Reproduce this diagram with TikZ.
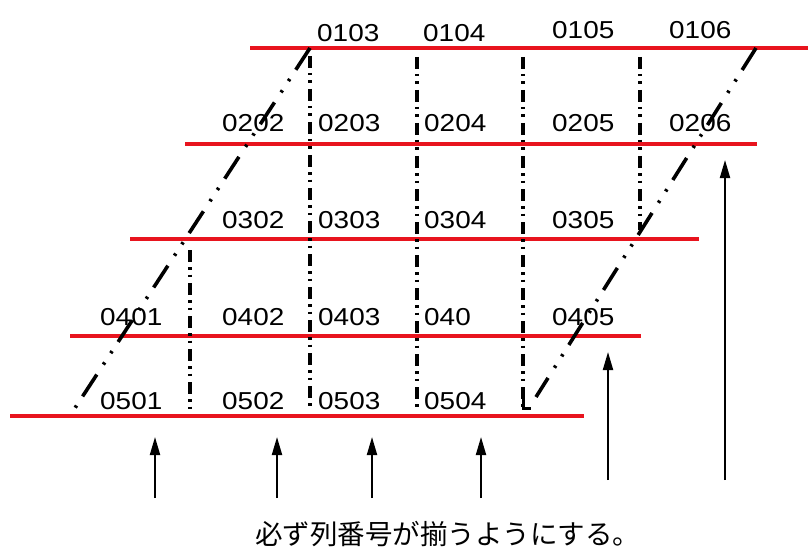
\documentclass[tikz,border=0pt]{standalone}
\usepackage{fontspec}
\setmainfont{Liberation Sans}[FakeStretch=1.14]
\newfontfamily\jpfont{Noto Sans CJK JP}
\usetikzlibrary{arrows.meta}
\definecolor{redline}{RGB}{232,20,30}
\tikzset{
  rowline/.style={draw=redline,line width=3.5pt},
  colline/.style={draw=black,line width=3.6pt,dash pattern=on 12pt off 5pt on 2.5pt off 5pt on 2.5pt off 6pt},
  diagline/.style={draw=black,line width=3.6pt,dash pattern=on 26pt off 11pt on 2.5pt off 11pt on 2.5pt off 12pt},
  uparrow/.style={draw=black,line width=2pt,-{Triangle[length=18pt,width=10pt]}},
  lab/.style={inner sep=0pt,anchor=base west,font=\fontsize{24.5}{24.5}\selectfont},
}
\begin{document}
\begin{tikzpicture}[x=1pt,y=1pt]
\useasboundingbox[fill=white] (0,0) rectangle (808,550);
% coordinates (y measured from top: y = 550 - ypx)
\coordinate (r1a) at (250,502); \coordinate (r1b) at (808,502);
\coordinate (r2a) at (185,406); \coordinate (r2b) at (757,406);
\coordinate (r3a) at (130,311); \coordinate (r3b) at (699,311);
\coordinate (r4a) at (70,214);  \coordinate (r4b) at (641,214);
\coordinate (r5a) at (10,134);  \coordinate (r5b) at (584,134);
% red rows
\draw[rowline] (r1a) -- (r1b);
\draw[rowline] (r2a) -- (r2b);
\draw[rowline] (r3a) -- (r3b);
\draw[rowline] (r4a) -- (r4b);
\draw[rowline] (r5a) -- (r5b);
% vertical dash-dot lines
\coordinate (v1a) at (310,494); \coordinate (v1b) at (310,140);
\coordinate (v2a) at (417,493); \coordinate (v2b) at (417,140);
\coordinate (v3a) at (523,493); \coordinate (v3b) at (523,142);
\coordinate (v3c) at (531,142);
\coordinate (v4a) at (640,493); \coordinate (v4b) at (640,320);
\coordinate (v5a) at (190,300); \coordinate (v5b) at (190,140);
\draw[colline] (v1a) -- (v1b);
\draw[colline] (v2a) -- (v2b);
\draw[colline] (v3a) -- (v3b);
\draw[black,line width=3pt] ([yshift=9pt]v3b) -- (v3b) -- (v3c);
\draw[colline] (v4a) -- (v4b);
\draw[colline] (v5a) -- (v5b);
% diagonals
\coordinate (d1a) at (310,502); \coordinate (d1b) at (75,142);
\coordinate (d2a) at (756,502); \coordinate (d2b) at (536,153);
\draw[diagline] (d1a) -- (d1b);
\draw[diagline] (d2a) -- (d2b);
% labels
\node[lab] (n0103) at (317,508) {0103};
\node[lab] (n0104) at (423,508) {0104};
\node[lab] (n0105) at (552,511) {0105};
\node[lab] (n0106) at (669,511) {0106};
\node[lab] (n0202) at (222,418) {0202};
\node[lab] (n0203) at (318,418) {0203};
\node[lab] (n0204) at (424,418) {0204};
\node[lab] (n0205) at (552,418) {0205};
\node[lab] (n0206) at (669,418) {0206};
\node[lab] (n0302) at (222,322) {0302};
\node[lab] (n0303) at (318,322) {0303};
\node[lab] (n0304) at (424,322) {0304};
\node[lab] (n0305) at (552,322) {0305};
\node[lab] (n0401) at (100,225) {0401};
\node[lab] (n0402) at (222,225) {0402};
\node[lab] (n0403) at (318,225) {0403};
\node[lab] (n040)  at (424,225) {040};
\node[lab] (n0405) at (552,225) {0405};
\node[lab] (n0501) at (100,141) {0501};
\node[lab] (n0502) at (222,141) {0502};
\node[lab] (n0503) at (318,141) {0503};
\node[lab] (n0504) at (424,141) {0504};
% arrows
\coordinate (a1a) at (155,52);  \coordinate (a1b) at (155,113);
\coordinate (a2a) at (277,52);  \coordinate (a2b) at (277,113);
\coordinate (a3a) at (372,52);  \coordinate (a3b) at (372,113);
\coordinate (a4a) at (481,52);  \coordinate (a4b) at (481,113);
\coordinate (a5a) at (608,70);  \coordinate (a5b) at (608,198);
\coordinate (a6a) at (725,70);  \coordinate (a6b) at (725,390);
\draw[uparrow] (a1a) -- (a1b);
\draw[uparrow] (a2a) -- (a2b);
\draw[uparrow] (a3a) -- (a3b);
\draw[uparrow] (a4a) -- (a4b);
\draw[uparrow] (a5a) -- (a5b);
\draw[uparrow] (a6a) -- (a6b);
% caption
\node[inner sep=0pt,anchor=base west,font=\jpfont\fontsize{27.5}{27.5}\selectfont] (cap) at (255,6) {必ず列番号が揃うようにする。};
\end{tikzpicture}
\end{document}
